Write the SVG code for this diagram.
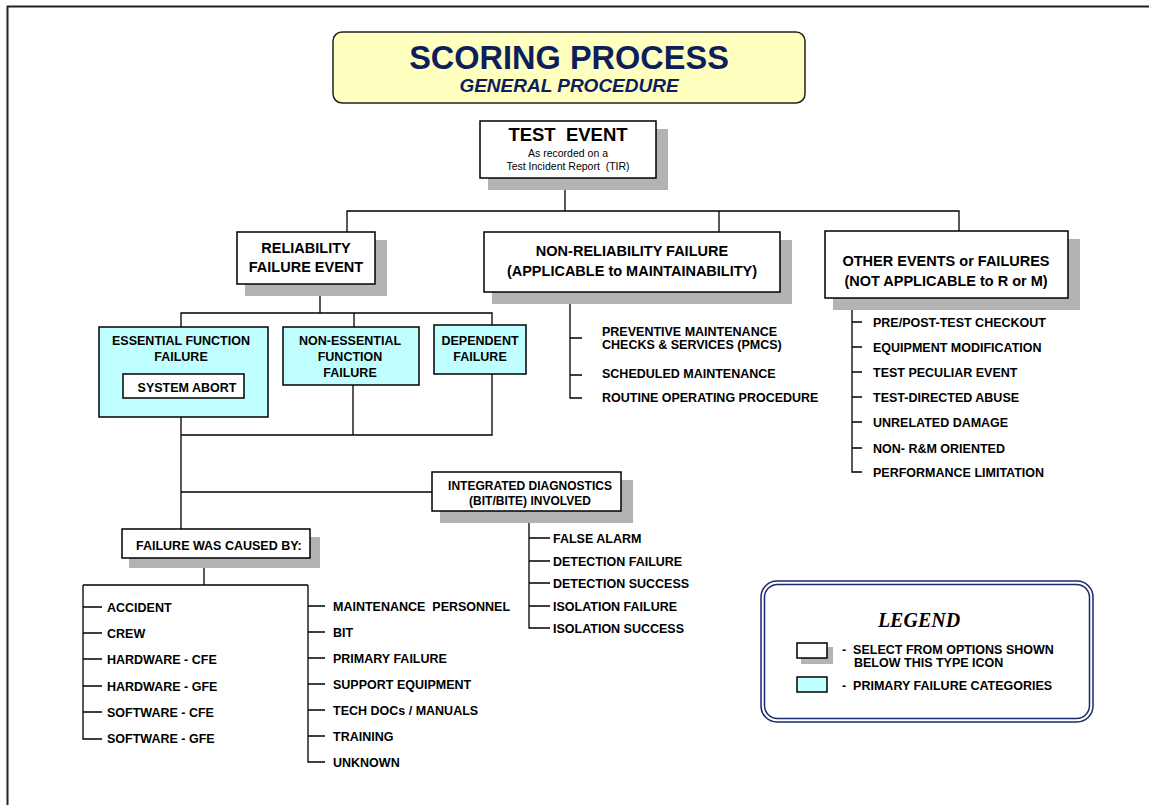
<svg xmlns="http://www.w3.org/2000/svg" width="1149" height="805" viewBox="0 0 1149 805">
<style>
text{font-family:"Liberation Sans",Arial,sans-serif;font-weight:bold;fill:#000}
.box{fill:#fff;stroke:#000;stroke-width:1.5}
.cy{fill:#c0ffff;stroke:#000;stroke-width:1.5}
.sh{fill:#b3b3b3}
.ln{fill:none;stroke:#000;stroke-width:1.3}
.t{font-size:12.5px}
.h{font-size:14.5px}
.c{text-anchor:middle}
.nv{fill:#0c1e5b}
</style>
<rect width="1149" height="805" fill="#fff"/>
<path d="M7.5,810 V6.5 H1150" fill="none" stroke="#222" stroke-width="2"/>
<g id="connectors" class="ln">
<path d="M565,178 V211"/>
<path d="M347,232 V211 H959 V231"/>
<path d="M719,211 V232"/>
<path d="M320,284 V313"/>
<path d="M181,327 V313 H492 V325"/>
<path d="M354,313 V327"/>
<path d="M181,417 V529"/>
<path d="M181,435 H492 V374"/>
<path d="M353,385 V435"/>
<path d="M181,492 H432"/>
<path d="M570,292 V398 H582 M570,338 H582 M570,375 H582"/>
<path d="M852,298 V472 H862 M852,322 H862 M852,347 H862 M852,372 H862 M852,397 H862 M852,422 H862 M852,448 H862"/>
<path d="M529,511 V628 H550 M529,538 H550 M529,561 H550 M529,583 H550 M529,606 H550"/>
<path d="M204,558 V585"/>
<path d="M83,585 H308"/>
<path d="M83,585 V739 H102 M83,607 H102 M83,633 H102 M83,659 H102 M83,686 H102 M83,712 H102"/>
<path d="M308,585 V762 H325 M308,606 H325 M308,632 H325 M308,658 H325 M308,684 H325 M308,710 H325 M308,736 H325"/>
</g>
<g id="title">
<rect x="333" y="32" width="472" height="71" rx="9" fill="#ffffc0" stroke="#222" stroke-width="1.5"/>
<text x="569" y="69" class="c nv" style="font-size:32.5px">SCORING PROCESS</text>
<text x="569" y="92" class="c nv" style="font-size:19px;font-style:italic">GENERAL PROCEDURE</text>
</g>
<g id="test-event">
<rect class="sh" x="488" y="129" width="180" height="61"/>
<rect class="box" x="480" y="121" width="176" height="57"/>
<text x="568" y="141" class="c" style="font-size:18.5px" xml:space="preserve">TEST  EVENT</text>
<text x="568" y="157" class="c" style="font-size:10.5px;font-weight:normal">As recorded on a</text>
<text x="568" y="170" class="c" style="font-size:10.5px;font-weight:normal" xml:space="preserve">Test Incident Report  (TIR)</text>
</g>
<g id="reliability">
<rect class="sh" x="245" y="240" width="142" height="56"/>
<rect class="box" x="237" y="232" width="138" height="52"/>
<text x="306" y="253" class="c h">RELIABILITY</text>
<text x="306" y="272" class="c h">FAILURE EVENT</text>
</g>
<g id="non-reliability">
<rect class="sh" x="492" y="240" width="300" height="64"/>
<rect class="box" x="484" y="232" width="296" height="60"/>
<text x="632" y="256" class="c h">NON-RELIABILITY FAILURE</text>
<text x="632" y="276" class="c h">(APPLICABLE to MAINTAINABILITY)</text>
</g>
<g id="other-events">
<rect class="sh" x="833" y="239" width="247" height="71"/>
<rect class="box" x="825" y="231" width="243" height="67"/>
<text x="946" y="266" class="c h">OTHER EVENTS or FAILURES</text>
<text x="946" y="286" class="c h">(NOT APPLICABLE to R or M)</text>
</g>
<g id="essential">
<rect class="cy" x="99" y="327" width="169" height="90"/>
<text x="181" y="345" class="c t">ESSENTIAL FUNCTION</text>
<text x="181" y="361" class="c t">FAILURE</text>
<rect class="box" x="123" y="374" width="121" height="24"/>
<text x="187" y="392" class="c t">SYSTEM ABORT</text>
</g>
<g id="non-essential">
<rect class="cy" x="283" y="327" width="136" height="58"/>
<text x="350" y="345" class="c t">NON-ESSENTIAL</text>
<text x="350" y="361" class="c t">FUNCTION</text>
<text x="350" y="377" class="c t">FAILURE</text>
</g>
<g id="dependent">
<rect class="cy" x="434" y="325" width="92" height="49"/>
<text x="480" y="345" class="c t">DEPENDENT</text>
<text x="480" y="361" class="c t">FAILURE</text>
</g>
<g id="non-rel-options">
<text x="602" y="336" class="t">PREVENTIVE MAINTENANCE</text>
<text x="602" y="349" class="t">CHECKS &amp; SERVICES (PMCS)</text>
<text x="602" y="378" class="t">SCHEDULED MAINTENANCE</text>
<text x="602" y="402" class="t">ROUTINE OPERATING PROCEDURE</text>
</g>
<g id="other-options">
<text x="873" y="326.5" class="t">PRE/POST-TEST CHECKOUT</text>
<text x="873" y="351.5" class="t">EQUIPMENT MODIFICATION</text>
<text x="873" y="376.5" class="t">TEST PECULIAR EVENT</text>
<text x="873" y="401.5" class="t">TEST-DIRECTED ABUSE</text>
<text x="873" y="426.5" class="t">UNRELATED DAMAGE</text>
<text x="873" y="452.5" class="t">NON- R&amp;M ORIENTED</text>
<text x="873" y="477" class="t">PERFORMANCE LIMITATION</text>
</g>
<g id="integrated">
<rect class="sh" x="440" y="480" width="193" height="43"/>
<rect class="box" x="432" y="472" width="189" height="39"/>
<text x="530" y="490" class="c" style="font-size:12px">INTEGRATED DIAGNOSTICS</text>
<text x="530" y="505" class="c" style="font-size:12px">(BIT/BITE) INVOLVED</text>
</g>
<g id="integrated-options">
<text x="553" y="542.5" class="t">FALSE ALARM</text>
<text x="553" y="565.5" class="t">DETECTION FAILURE</text>
<text x="553" y="587.5" class="t">DETECTION SUCCESS</text>
<text x="553" y="610.5" class="t">ISOLATION FAILURE</text>
<text x="553" y="632.5" class="t">ISOLATION SUCCESS</text>
</g>
<g id="caused-by">
<rect class="sh" x="129" y="537" width="191" height="31"/>
<rect class="box" x="122" y="529" width="188" height="29"/>
<text x="136" y="550" class="t">FAILURE WAS CAUSED BY:</text>
</g>
<g id="cause-options-1">
<text x="107" y="611.5" class="t">ACCIDENT</text>
<text x="107" y="637.5" class="t">CREW</text>
<text x="107" y="663.5" class="t">HARDWARE - CFE</text>
<text x="107" y="690.5" class="t">HARDWARE - GFE</text>
<text x="107" y="716.5" class="t">SOFTWARE - CFE</text>
<text x="107" y="743" class="t">SOFTWARE - GFE</text>
</g>
<g id="cause-options-2">
<text x="333" y="610.5" class="t" xml:space="preserve">MAINTENANCE  PERSONNEL</text>
<text x="333" y="636.5" class="t">BIT</text>
<text x="333" y="662.5" class="t">PRIMARY FAILURE</text>
<text x="333" y="688.5" class="t">SUPPORT EQUIPMENT</text>
<text x="333" y="714.5" class="t">TECH DOCs / MANUALS</text>
<text x="333" y="740.5" class="t">TRAINING</text>
<text x="333" y="766.5" class="t">UNKNOWN</text>
</g>
<g id="legend">
<rect x="761" y="581" width="332" height="141" rx="16" fill="#fff" stroke="#1a2a6c" stroke-width="1.5"/>
<rect x="764.5" y="584.5" width="325" height="134" rx="13" fill="none" stroke="#1a2a6c" stroke-width="1.5"/>
<text x="919" y="627" class="c" style="font-family:'Liberation Serif','Times New Roman',serif;font-style:italic;font-size:20px">LEGEND</text>
<rect class="sh" x="801" y="647" width="32" height="17"/>
<rect class="box" x="797" y="643" width="30" height="15"/>
<text x="842" y="654" class="t" xml:space="preserve">-  SELECT FROM OPTIONS SHOWN</text>
<text x="854" y="667" class="t">BELOW THIS TYPE ICON</text>
<rect class="cy" x="797" y="677" width="30" height="15"/>
<text x="842" y="690" class="t" xml:space="preserve">-  PRIMARY FAILURE CATEGORIES</text>
</g>
</svg>
